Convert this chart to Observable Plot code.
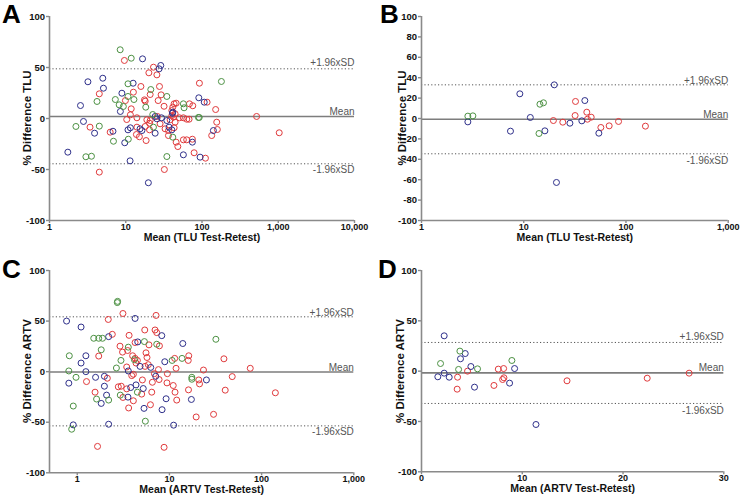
<!DOCTYPE html>
<html><head><meta charset="utf-8">
<script src="https://cdn.jsdelivr.net/npm/d3@7"></script>
<script src="https://cdn.jsdelivr.net/npm/@observablehq/plot@0.6"></script>
<style>
body{margin:0;background:#fff;}
#wrap{position:relative;width:740px;height:498px;overflow:hidden;background:#fff;font-family:"Liberation Sans",Arial,Helvetica,sans-serif;}
.panel{position:absolute;}
.letter{position:absolute;font-weight:bold;font-size:26px;line-height:26px;color:#000;}
.ylab{position:absolute;font-weight:bold;font-size:11.5px;line-height:12px;color:#111;white-space:nowrap;transform:translate(-50%,-50%) rotate(-90deg);}
</style></head><body><div id="wrap"></div>
<script>
// ---- Panel A: TLU, all (log x) ----
const tluAllRed = [[9.6,56.9],[4.5,24.2],[12.6,25.8],[15.8,31.4],[9.9,17.6],[17.6,18.3],[11.8,9.5],[11.5,3.6],[10.3,-1],[14,0.7],[3.4,-8.5],[6.25,-13.4],[14,-8.5],[18,-7.8],[13.8,-15.7],[15.1,-17.9],[18.5,-21.6],[4.5,-52.6],[23.1,50.3],[20.1,44.8],[25.6,42.8],[27.7,31.4],[20.9,23.5],[29.1,23.2],[18,17],[26.6,17.6],[31.8,12],[43.1,14.4],[45.8,15],[41.4,11.1],[40.2,7.8],[68.4,14.4],[75.7,12.5],[92.5,34.6],[116.6,16],[151,8.8],[50.6,0.7],[57,0.7],[63.1,-0.7],[67.7,-0.7],[156,-3.6],[159,-10.8],[134,-16.7],[57,-20.9],[63,-20.9],[74.8,-20.3],[45.8,-23.2],[48.2,-27.5],[78.8,-33.6],[111,-38.9],[32.1,-50],[26,2],[18.9,-1.3],[20.9,-2],[38.2,-1.3],[42.2,1.3],[44.4,-3.6],[20.5,-11.1],[28.2,-5.2],[32.8,-10.1],[36.3,-11.8],[43.1,-9.1],[36.3,-16.7],[40.2,2.9],[44.4,4.6],[20.5,-4.6],[520,2],[1030,-14]];
const tluAllBlue = [[16.6,58.5],[3.19,36],[5.0,39.5],[5.1,29.7],[2.55,12.7],[12.5,34.6],[8.9,24.8],[8.5,6.9],[2.79,-2.9],[3.9,-14.4],[6.8,-12.5],[10.7,-11.1],[11.5,-9.1],[15.4,-10.1],[16.3,-11.8],[9.7,-23.8],[1.74,-33],[11.4,-41.5],[19.8,-63],[28.8,52],[27.4,48.7],[41.4,6.2],[90.8,20.3],[107,16],[141,-11.8],[74.8,-23.2],[94.4,-37.9],[57,-35.6],[24.3,2],[25.6,-0.3],[29.4,0.7],[34.6,-2],[40.9,5.2],[24.3,-14.4],[37,-8.5],[40.2,-11.1]];
const tluAllGreen = [[8.45,67.4],[11.8,59.1],[4.2,16.7],[10.7,34],[7.3,18.6],[8.2,13.4],[9.3,11.8],[10.7,21.6],[12.8,18.6],[18.3,11.1],[2.22,-7.8],[4.5,-7.5],[6.9,-22.3],[10.8,-20.3],[3.0,-37.5],[3.55,-37],[21.3,28.4],[34.6,21.6],[57,14.4],[58.2,10.5],[179.6,36.3],[89.8,1],[92,1],[34.6,-37.3],[22.6,3.9],[23.1,-8.5],[41.4,-18.3]];
const tluAllStats = {mean: 2, upper: 48.7, lower: -44.4};

// ---- Panel B: TLU, subset (log x) ----
const tluSubRed = [[19.5,-2],[24.1,-3.6],[32.1,16.7],[31.8,2.9],[41.4,6.2],[42,-0.7],[45.7,1.3],[56.8,-8.8],[68.5,-7.2],[84.6,-2.9],[155,-7.5]];
const tluSubBlue = [[2.84,-3.3],[7.42,-12.4],[9.16,24.2],[11.6,1],[16.1,-12.1],[19.9,33],[20.9,-62.7],[28.3,-4.6],[39.6,17.6],[37,-2.3],[54.3,-14.4]];
const tluSubGreen = [[2.84,2.3],[3.18,2.6],[14.4,14],[15.6,15.4],[14.1,-14.7]];
const tluSubStats = {mean: -0.7, upper: 33, lower: -34.6};

// ---- Panel C: ARTV, all (log x) ----
const artvAllRed = [[1.26,-9.8],[2.4,36.9],[1.71,15.4],[2.12,-6.5],[1.56,-20.3],[2.17,51.6],[1.66,-73.9],[3.13,57.5],[7.16,55.6],[3.65,35.9],[5.4,41.2],[6.98,41.2],[7.28,38.6],[4.24,28.8],[7.79,25.5],[6.0,26.5],[3.52,20.9],[2.91,25.2],[3.1,19.3],[11.4,13.1],[16.2,15.7],[16,11.1],[39,12.7],[11.8,3.3],[23.4,1.6],[75.3,3.3],[9.4,-11.1],[11,-13.7],[11.5,-20.3],[12,-28.1],[16.1,-18],[20.8,-8.2],[21.2,-12.1],[48,-4.9],[40.3,-18.3],[30.1,-42.2],[19.5,-44.8],[141,-20.9],[8.75,-74.8],[3.61,-35.9],[4.06,-28.8],[3.13,-25.5],[2.79,-15],[3.0,-14.4],[3.44,-17],[5.0,-22.2],[6.22,-32.7],[6.43,-20.3],[6.53,-10.5],[7.72,-7.8],[3.9,-3.9],[4.06,-2.6],[3.44,4.6],[4.34,8.5],[4.24,13.1],[3.99,15.7],[4.49,11.1],[5.44,5.2],[5.9,6.9],[5.57,18.6],[5.71,14],[7.6,2],[6.87,-2],[9.5,-2],[5.09,-8.2]];
const artvAllBlue = [[0.766,50],[1.10,44.1],[0.81,-11.4],[1.24,15.7],[1.10,8.5],[1.24,0],[0.905,-52.6],[2.19,34.6],[1.58,-5.6],[1.97,-4.6],[1.97,-14.4],[1.82,-31.4],[2.08,-23.2],[2.19,-52],[4.24,52.6],[4.53,29.4],[8.26,35.6],[13.96,27.8],[8.9,9.8],[9.2,-26.8],[17.3,-27.5],[25.2,-8.2],[11.1,-52.9],[8.32,-37.6],[5.3,-36.3],[3.55,-25.2],[3.8,-15.7],[5.2,-16.7],[7.1,-4.6],[4.34,-13.1],[3.58,0.7],[4.8,5.2],[6.27,4.2]];
const artvAllGreen = [[0.82,15.7],[0.81,0.7],[0.97,-5.6],[0.905,-34],[0.87,-56.9],[1.51,33],[1.71,33],[1.88,33],[1.82,21.6],[1.62,-27.1],[2.19,-28.1],[2.72,68.3],[2.74,69.5],[5.35,29.7],[7.28,27.1],[3.58,24.2],[2.98,11.1],[31.9,32],[10.7,11.1],[13.7,13.1],[17.5,-5.6],[17.5,-7.5],[5.48,-49],[2.93,-23.2],[4.49,-20.3],[2.66,3.6],[4.17,11.8]];
const artvAllStats = {mean: -0.3, upper: 54.2, lower: -53.6};

// ---- Panel D: ARTV, subset (linear x) ----
const artvSubRed = [[3.58,-6],[3.54,-17.9],[4.57,0],[7.19,-14.2],[7.62,2],[8.15,2.6],[8.05,-8.3],[8.18,-6.6],[14.44,-9.6],[22.4,-7],[26.56,-2]];
const artvSubBlue = [[1.62,-5.6],[2.25,35.1],[2.25,-2],[2.75,-6],[3.87,12.3],[4.34,17.5],[4.9,4.6],[5.26,-15.9],[8.74,-11.9],[9.24,2.6],[11.36,-53]];
const artvSubGreen = [[1.89,7.6],[3.81,19.9],[3.68,1.7],[5.56,2.3],[8.97,10.6]];
const artvSubStats = {mean: -1.7, upper: 28.5, lower: -32.1};

const yTicks50 = [-100, -50, 0, 50, 100];
const yTicks20 = [-100, -80, -60, -40, -20, 0, 20, 40, 60, 80, 100];
const COLORS = {red: "#e03a3c", blue: "#2e2f8a", green: "#4c9143"};
const FONT = '"Liberation Sans", Arial, Helvetica, sans-serif';

function makePanel(c) {
  const fmt = d3.format(",");
  const groups = [[c.red, COLORS.red], [c.blue, COLORS.blue], [c.green, COLORS.green]];
  return Plot.plot({
    width: 370, height: 249,
    marginLeft: c.ml, marginRight: c.mr, marginTop: c.mt, marginBottom: c.mb,
    style: {fontFamily: FONT, background: "white", overflow: "visible"},
    x: {type: c.xType, domain: c.xDomain},
    y: {type: "linear", domain: [-100, 100]},
    marks: [
      Plot.ruleY([c.stats.upper, c.stats.lower], {stroke: "#555", strokeWidth: 1, strokeDasharray: "1.2,2.2"}),
      Plot.ruleY([c.stats.mean], {stroke: "#7d7d7d", strokeWidth: 1.6}),
      Plot.ruleX([c.xDomain[0]], {stroke: "#8a8a8a", strokeWidth: 1.6}),
      Plot.ruleY([-100], {stroke: "#8a8a8a", strokeWidth: 1.6}),
      Plot.axisX({ticks: c.xTicks, tickFormat: fmt, tickSize: 3, tickPadding: 0, stroke: "#8a8a8a", strokeWidth: 1.4, fill: "#111", fontWeight: "bold", fontSize: 9, label: null}),
      Plot.axisY({ticks: c.yTicks, tickFormat: d => String(d), tickSize: 3, tickPadding: 1.5, stroke: "#8a8a8a", strokeWidth: 1.4, fill: "#111", fontWeight: "bold", fontSize: 9.5, label: null}),
      ...groups.map(([data, col]) => Plot.dot(data, {x: d => d[0], y: d => d[1], r: 3, stroke: col, strokeWidth: 1, fill: "none"})),
      Plot.text(["+1.96xSD"], {frameAnchor: "right", y: () => c.stats.upper, text: d => d, textAnchor: "end", dy: c.upDy, fill: "#555", fontSize: 10}),
      Plot.text(["Mean"], {frameAnchor: "right", y: () => c.stats.mean, text: d => d, textAnchor: "end", dy: c.meanDy, fill: "#555", fontSize: 10}),
      Plot.text(["-1.96xSD"], {frameAnchor: "right", y: () => c.stats.lower, text: d => d, textAnchor: "end", dy: c.loDy, fill: "#555", fontSize: 10}),
      Plot.text([c.xLabel], {frameAnchor: "bottom", text: d => d, dy: c.xLabelDy, fontWeight: "bold", fontSize: 10.5, fill: "#111"})
    ]
  });
}

const panels = [
  {left: 0, top: 0, letter: "A", lx: 2, ly: 1, ycx: 27, ycy: 118, cfg: {red: tluAllRed, blue: tluAllBlue, green: tluAllGreen, stats: tluAllStats, ml: 49, mr: 16, mt: 16, mb: 29, xType: "log", xDomain: [1, 10000], xTicks: [1, 10, 100, 1000, 10000], yTicks: yTicks50, xLabel: "Mean (TLU Test-Retest)", yLabel: "% Difference TLU", xLabelDy: 20, upDy: -5.6, meanDy: -5, loDy: 6}},
  {left: 370, top: 0, letter: "B", lx: 380, ly: 1, ycx: 401.7, ycy: 118, cfg: {red: tluSubRed, blue: tluSubBlue, green: tluSubGreen, stats: tluSubStats, ml: 51, mr: 12.3, mt: 16, mb: 29, xType: "log", xDomain: [1, 1000], xTicks: [1, 10, 100, 1000], yTicks: yTicks20, xLabel: "Mean (TLU Test-Retest)", yLabel: "% Difference TLU", xLabelDy: 20, upDy: -4.5, meanDy: -4, loDy: 7}},
  {left: 0, top: 249, letter: "C", lx: 2, ly: 256, ycx: 27.3, ycy: 371, cfg: {red: artvAllRed, blue: artvAllBlue, green: artvAllGreen, stats: artvAllStats, ml: 49, mr: 16.7, mt: 21, mb: 25.7, xType: "log", xDomain: [0.5, 1000], xTicks: [1, 10, 100, 1000], yTicks: yTicks50, xLabel: "Mean (ARTV Test-Retest)", yLabel: "% Difference ARTV", xLabelDy: 20.2, upDy: -4.4, meanDy: -4.3, loDy: 6}},
  {left: 370, top: 249, letter: "D", lx: 378, ly: 256, ycx: 400, ycy: 370.7, cfg: {red: artvSubRed, blue: artvSubBlue, green: artvSubGreen, stats: artvSubStats, ml: 51, mr: 16.7, mt: 21, mb: 26.7, xType: "linear", xDomain: [0, 30], xTicks: [0, 10, 20, 30], yTicks: yTicks50, xLabel: "Mean (ARTV Test-Retest)", yLabel: "% Difference ARTV", xLabelDy: 20.5, upDy: -5.3, meanDy: -5, loDy: 7}}
];

const wrap = document.getElementById("wrap");
for (const p of panels) {
  const div = document.createElement("div");
  div.className = "panel";
  div.style.left = p.left + "px";
  div.style.top = p.top + "px";
  div.appendChild(makePanel(p.cfg));
  wrap.appendChild(div);
}
for (const p of panels) {
  const l = document.createElement("div");
  l.className = "letter";
  l.textContent = p.letter;
  l.style.left = p.lx + "px";
  l.style.top = p.ly + "px";
  wrap.appendChild(l);
  const y = document.createElement("div");
  y.className = "ylab";
  y.textContent = p.cfg.yLabel;
  y.style.left = p.ycx + "px";
  y.style.top = p.ycy + "px";
  wrap.appendChild(y);
}
</script>
</body></html>
